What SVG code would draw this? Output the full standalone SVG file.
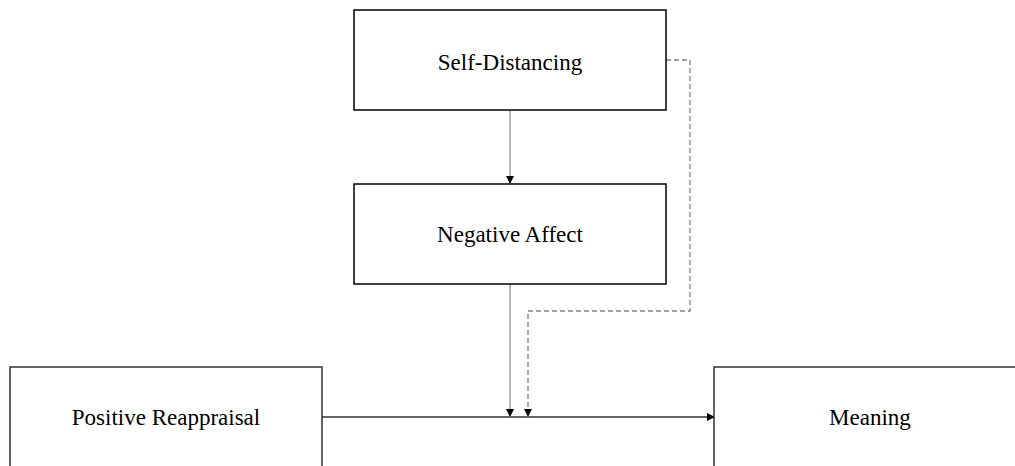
<svg xmlns="http://www.w3.org/2000/svg" width="1015" height="466" viewBox="0 0 1015 466">
<style>
.box{fill:#fff;stroke:#000;stroke-width:1.5}
.box2{fill:#fff;stroke:#333;stroke-width:1.5}
.lbl{font-family:"Liberation Serif","Times New Roman",serif;font-size:23px;fill:#000;text-anchor:middle}
.gray{fill:none;stroke:#8c8c8c;stroke-width:1.3}
.dash{fill:none;stroke:#808080;stroke-width:1.3;stroke-dasharray:5,3}
.dark{fill:none;stroke:#333;stroke-width:1.3}
</style>
<defs>
<marker id="ah" markerWidth="8" markerHeight="8" refX="7" refY="4" orient="auto" markerUnits="userSpaceOnUse">
<path d="M0,0 L8,4 L0,8 Z" fill="#000"/>
</marker>
</defs>
<rect width="1015" height="466" fill="#fff"/>
<g id="connectors">
<line class="gray" x1="510" y1="110" x2="510" y2="183" marker-end="url(#ah)"/>
<line class="gray" x1="510" y1="284" x2="510" y2="416" marker-end="url(#ah)"/>
<polyline class="dash" points="666,60 690,60 690,311 528,311 528,416" marker-end="url(#ah)"/>
<line class="dark" x1="322" y1="417" x2="714" y2="417" marker-end="url(#ah)"/>
</g>
<g id="self-distancing">
<rect class="box" x="354" y="10" width="312" height="100"/>
<text class="lbl" x="510" y="70">Self-Distancing</text>
</g>
<g id="negative-affect">
<rect class="box" x="354" y="184" width="312" height="100"/>
<text class="lbl" x="510" y="242">Negative Affect</text>
</g>
<g id="positive-reappraisal">
<rect class="box2" x="10" y="367" width="312" height="100"/>
<text class="lbl" x="166" y="425">Positive Reappraisal</text>
</g>
<g id="meaning">
<rect class="box2" x="714" y="367" width="312" height="100"/>
<text class="lbl" x="870" y="425">Meaning</text>
</g>
</svg>
